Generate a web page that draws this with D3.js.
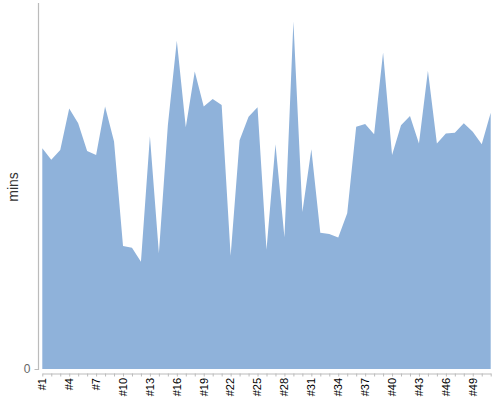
<!DOCTYPE html>
<html><head><meta charset="utf-8">
<script src="https://cdn.jsdelivr.net/npm/d3@7"></script>
<style>body{margin:0;background:#fff}svg{display:block}</style>
</head><body>
<svg id="c" width="500" height="400"></svg>
<script>
const categories = d3.range(1, 52).map(i => "#" + i);
const values = [60.5,57.3,60.0,71.4,67.3,59.7,58.6,71.9,62.3,33.7,
  33.2,29.4,63.8,31.7,66.8,89.9,66.2,81.5,71.9,74.0,
  72.3,31.0,62.7,69.1,71.7,32.7,61.6,36.1,95.2,43.0,
  60.2,37.3,37.0,36.0,42.7,66.4,67.1,64.3,86.7,58.6,
  66.8,69.3,61.8,81.7,61.8,64.5,64.7,67.3,65.0,61.6,70.2];
const yTicks = [0];
const yLabel = "mins";

const svg = d3.select("#c");
const x = d3.scalePoint().domain(categories).range([42.3, 490.7]);
const y = d3.scaleLinear().domain([0, 100]).range([369, 4]);

const area = d3.area()
  .x((d, i) => x(categories[i]))
  .y0(y(0))
  .y1(d => y(d));

svg.append("path").datum(values).attr("d", area).attr("fill", "#8fb2da");

// y axis
const ya = svg.append("g").attr("transform", "translate(38.5,0)");
ya.append("line").attr("x1", 0).attr("x2", 0).attr("y1", 3).attr("y2", 370)
  .attr("stroke", "#bbb").attr("stroke-width", 1.2);
yTicks.forEach(t => {
  ya.append("line").attr("x1", -4).attr("x2", 0).attr("y1", y(t)+0.5).attr("y2", y(t)+0.5)
    .attr("stroke", "#bbb");
  ya.append("text").attr("x", -8).attr("y", y(t)).attr("dy", "0.35em")
    .attr("text-anchor", "end").attr("fill", "#666")
    .style("font", "12px 'Liberation Sans', Arial, sans-serif").text(t);
});

svg.append("text")
  .attr("transform", "translate(18,187) rotate(-90)")
  .attr("text-anchor", "middle")
  .attr("fill", "#333")
  .style("font", "14px 'Liberation Sans', Arial, sans-serif")
  .text(yLabel);

// x axis
const xa = svg.append("g").attr("transform", "translate(0,373.5)")
  .call(d3.axisBottom(x).tickSize(3).tickSizeOuter(0).tickFormat(""));
xa.select(".domain").attr("stroke", "#bbb");
xa.selectAll(".tick line").attr("stroke", "#bbb");

svg.append("g").selectAll("text")
  .data(categories.filter((d, i) => i % 3 === 0))
  .join("text")
  .attr("transform", d => `translate(${x(d)},378) rotate(-90)`)
  .attr("text-anchor", "end")
  .attr("dy", "0.35em")
  .attr("fill", "#000")
  .style("font", "11px 'Liberation Sans', Arial, sans-serif")
  .text(d => d);
</script>
</body></html>
